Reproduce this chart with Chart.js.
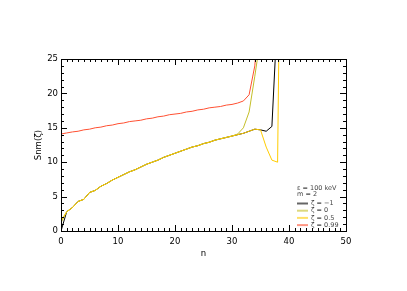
<!DOCTYPE html>
<html>
<head>
<meta charset="utf-8">
<script src="https://cdn.jsdelivr.net/npm/chart.js@4.4.1/dist/chart.umd.min.js"></script>
<style>
body { margin:0; background:#fff; }
canvas { display:block; }
</style>
</head>
<body>
<canvas id="c" width="407" height="291"></canvas>
<script>
// values, one entry per n = 0,1,2,...
var zetaM1 = [0, 2.8, 3.4, 4.3, 4.6, 5.6, 5.9, 6.5, 6.9, 7.4, 7.8, 8.2, 8.6, 8.9, 9.3, 9.7, 10.0, 10.3, 10.7, 11.0,
  11.3, 11.6, 11.9, 12.2, 12.4, 12.7, 12.9, 13.2, 13.4, 13.6, 13.8, 14.0, 14.2, 14.5, 14.8, 14.7, 14.5, 15.2, 32]
var zeta0 = [1.2, 2.8, 3.4, 4.3, 4.6, 5.6, 5.9, 6.5, 6.9, 7.4, 7.8, 8.2, 8.6, 8.9, 9.3, 9.7, 10.0, 10.3, 10.7, 11.0,
  11.3, 11.6, 11.9, 12.2, 12.4, 12.7, 12.9, 13.2, 13.4, 13.6, 13.8, 14.1, 15.0, 17.3, 22.5, 28]
var zeta05 = [1.5, 2.8, 3.4, 4.3, 4.6, 5.6, 5.9, 6.5, 6.9, 7.4, 7.8, 8.2, 8.6, 8.9, 9.3, 9.7, 10.0, 10.3, 10.7, 11.0,
  11.3, 11.6, 11.9, 12.2, 12.4, 12.7, 12.9, 13.2, 13.4, 13.6, 13.8, 14.0, 14.2, 14.5, 14.8, 14.7, 12.2, 10.3, 10.0, 85]
var zeta099 = [14.1, 14.25, 14.4, 14.5, 14.7, 14.8, 15.0, 15.1, 15.3, 15.4, 15.6, 15.7, 15.9, 16.0, 16.1, 16.3, 16.4, 16.6, 16.7, 16.9,
  17.0, 17.1, 17.3, 17.4, 17.6, 17.7, 17.9, 18.0, 18.1, 18.3, 18.4, 18.6, 18.9, 19.8, 24.0, 34]

var seriesLabels = ['ζ = −1', 'ζ = 0', 'ζ = 0.5', 'ζ = 0.99']
var seriesColors = ['rgb(0,0,0)', 'rgb(196,190,40)', 'rgb(255,204,0)', 'rgb(255,80,50)']
var noteLines = ['ε = 100 keV', 'm = 2']
var xTicks = [0, 10, 20, 30, 40, 50]
var yTicks = [0, 5, 10, 15, 20, 25]

function pts(arr) {
  return arr.map(function (v, i) { return {x: i, y: v} })
}

var allSeries = [zetaM1, zeta0, zeta05, zeta099]
var drawOrder = [3, 1, 0, 2]
var datasets = []
for (var i = 0; i < allSeries.length; i++) {
  datasets.push({
    label: seriesLabels[i],
    data: pts(allSeries[i]),
    borderColor: seriesColors[i],
    borderWidth: 1,
    pointRadius: 0,
    tension: 0,
    fill: false,
    order: drawOrder[i]
  })
}

var FONT = '"DejaVu Sans", Verdana, sans-serif'

// IDL style box with inward ticks on all sides, plus the small legend
var boxPlugin = {
  id: 'box',
  afterDatasetsDraw: function (chart) {
    var ctx = chart.ctx, a = chart.chartArea, sx = chart.scales.x, sy = chart.scales.y
    ctx.save()
    ctx.strokeStyle = '#000'
    ctx.lineWidth = 1
    ctx.strokeRect(Math.round(a.left) + 0.5, Math.round(a.top) + 0.5,
      Math.round(a.right - a.left), Math.round(a.bottom - a.top))
    ctx.beginPath()
    for (var v = 0; v <= 50; v++) {
      var p = Math.round(sx.getPixelForValue(v)) + 0.5
      var len = (v % 10 === 0) ? 6 : 3
      ctx.moveTo(p, a.bottom); ctx.lineTo(p, a.bottom - len)
      ctx.moveTo(p, a.top); ctx.lineTo(p, a.top + len)
    }
    for (var w = 0; w <= 25; w++) {
      var q = Math.round(sy.getPixelForValue(w)) + 0.5
      var l2 = (w % 5 === 0) ? 6 : 3
      ctx.moveTo(a.left, q); ctx.lineTo(a.left + l2, q)
      ctx.moveTo(a.right, q); ctx.lineTo(a.right - l2, q)
    }
    ctx.stroke()

    // legend
    ctx.font = '6.5px ' + FONT
    ctx.fillStyle = '#444'
    ctx.textBaseline = 'middle'
    var lx = 297, ly = 188.5
    ctx.fillText(noteLines[0], lx, ly)
    ctx.fillText(noteLines[1], lx, ly + 6)
    for (var k = 0; k < seriesLabels.length; k++) {
      var yy = 203.5 + k * 7.2
      ctx.strokeStyle = seriesColors[k]
      ctx.globalAlpha = 0.6
      ctx.lineWidth = 2
      ctx.beginPath()
      ctx.moveTo(lx, yy); ctx.lineTo(lx + 11, yy)
      ctx.stroke()
      ctx.globalAlpha = 1
      ctx.fillText(seriesLabels[k], lx + 14, yy)
    }
    ctx.restore()
  }
}

new Chart(document.getElementById('c').getContext('2d'), {
  type: 'line',
  data: { datasets: datasets },
  options: {
    responsive: false,
    animation: false,
    devicePixelRatio: 1,
    layout: { padding: { left: 30, right: 61, top: 59, bottom: 29 } },
    plugins: { legend: { display: false }, tooltip: { enabled: false } },
    scales: {
      x: {
        type: 'linear', min: 0, max: 50,
        afterFit: function (s) { s.height = 31 },
        afterBuildTicks: function (s) { s.ticks = xTicks.map(function (v) { return {value: v} }) },
        grid: { display: false, drawTicks: false },
        border: { display: false },
        ticks: { padding: 6, color: '#000', font: { family: FONT, size: 8.5 }, maxRotation: 0 },
        title: { display: true, text: 'n', color: '#000', font: { family: FONT, size: 8.5 }, padding: { top: 0, bottom: 3 } }
      },
      y: {
        type: 'linear', min: 0, max: 25,
        afterFit: function (s) { s.width = 31 },
        afterBuildTicks: function (s) { s.ticks = yTicks.map(function (v) { return {value: v} }) },
        grid: { display: false, drawTicks: false },
        border: { display: false },
        ticks: { padding: 3, color: '#000', font: { family: FONT, size: 8.5 } },
        title: { display: true, text: 'Snm(ζ)', color: '#000', font: { family: FONT, size: 8.5 }, padding: { top: 4, bottom: 0 } }
      }
    }
  },
  plugins: [boxPlugin]
})
</script>
</body>
</html>
